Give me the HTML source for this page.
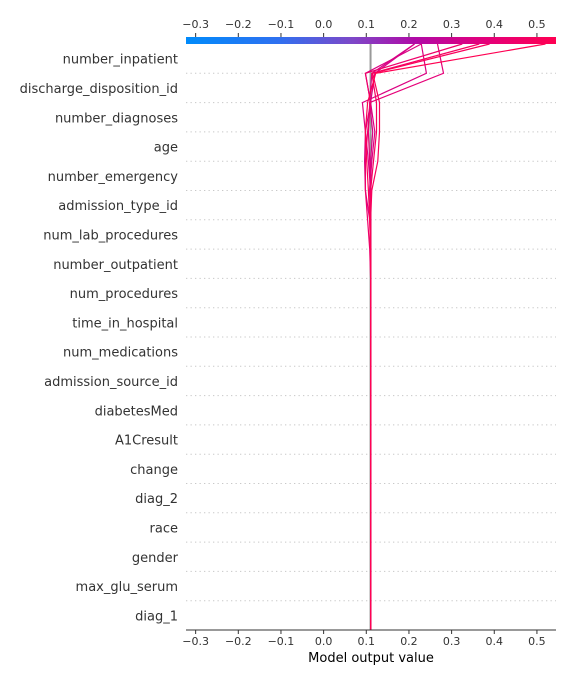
<!DOCTYPE html>
<html><head><meta charset="utf-8"><style>
html,body{margin:0;padding:0;background:#fff;width:576px;height:684px;overflow:hidden}
svg text{font-family:"DejaVu Sans","Liberation Sans",sans-serif;}
</style></head><body>
<svg id="chart" width="576" height="684" xmlns="http://www.w3.org/2000/svg">
<defs><linearGradient id="cb" x1="0" x2="1" y1="0" y2="0">
<stop offset="0" stop-color="#008bfb"/><stop offset="0.25" stop-color="#2f70f0"/><stop offset="0.45" stop-color="#7d48c8"/><stop offset="0.62" stop-color="#b00aa6"/><stop offset="0.8" stop-color="#e2007c"/><stop offset="1" stop-color="#ff0052"/></linearGradient></defs>
<g id="grid"></g><g id="lines"></g><g id="axes"></g>
</svg>
<script>
const features = ["number_inpatient","discharge_disposition_id","number_diagnoses","age","number_emergency","admission_type_id","num_lab_procedures","number_outpatient","num_procedures","time_in_hospital","num_medications","admission_source_id","diabetesMed","A1Cresult","change","diag_2","race","gender","max_glu_serum","diag_1"];
const baseValue = 0.110;
const tickValues = [-0.3,-0.2,-0.1,0.0,0.1,0.2,0.3,0.4,0.5];
const tickLabels = ["\u22120.3","\u22120.2","\u22120.1","0.0","0.1","0.2","0.3","0.4","0.5"];
// model output after each feature, listed top feature first (remaining features leave output at base)
const sampleA = [0.520,0.122,0.103,0.098,0.101,0.105,0.108];
const sampleB = [0.389,0.115,0.131,0.131,0.127,0.113];
const sampleC = [0.365,0.113,0.124,0.124,0.117,0.110];
const sampleD = [0.325,0.098,0.110,0.103,0.098,0.098,0.103,0.108];
const sampleE = [0.267,0.281,0.108,0.105,0.108];
const sampleF = [0.229,0.241,0.091,0.098,0.105];
const sampleG = [0.213,0.120,0.110,0.098,0.096,0.098,0.108];
const sampleH = [0.229,0.098,0.110,0.120,0.113,0.108];
const sampleI = [0.213,0.113,0.108,0.115,0.110,0.108];
const samples = [sampleI,sampleH,sampleG,sampleF,sampleE,sampleD,sampleC,sampleB,sampleA];

const X0=186, X1=556, D0=-0.3226, D1=0.5447, YT=44, YB=630;
const xs = v => X0 + (v-D0)/(D1-D0)*(X1-X0);
const step = (YB-YT)/features.length;
const yb = k => YT + k*step;
const NS="http://www.w3.org/2000/svg";
function mk(tag,attrs,parent,text){const e=document.createElementNS(NS,tag);for(const k in attrs)e.setAttribute(k,attrs[k]);if(text!=null)e.textContent=text;parent.appendChild(e);return e;}
function colorFor(v){
  const stops=[[0,[0,139,251]],[0.25,[47,112,240]],[0.45,[125,72,200]],[0.62,[176,10,166]],[0.8,[226,0,124]],[1,[255,0,82]]];
  let t=Math.max(0,Math.min(1,(v-D0)/(D1-D0)));
  for(let i=1;i<stops.length;i++){if(t<=stops[i][0]){const a=stops[i-1],b=stops[i];const f=(t-a[0])/(b[0]-a[0]);return "rgb("+a[1].map((c,j)=>Math.round(c+(b[1][j]-c)*f)).join(",")+")";}}
  return "rgb(255,0,82)";
}
const grid=document.getElementById('grid'), lines=document.getElementById('lines'), axes=document.getElementById('axes');
features.forEach((f,i)=>{
  const yc=YT+(i+0.5)*step;
  const t=mk('text',{x:178,y:yc+5,'text-anchor':'end','font-size':13,fill:'#333'},axes,f);
  
  
  const g=mk('line',{x1:X0,x2:X1,y1:yb(i+1),y2:yb(i+1),stroke:'#c8c8c8','stroke-dasharray':'1.3,3.2','stroke-width':1},grid);
  
  
});
const bl=mk('line',{x1:xs(baseValue),x2:xs(baseValue),y1:YT,y2:YB,stroke:'#999','stroke-width':2},grid);


samples.forEach((s,si)=>{
  const pts=[];
  for(let k=0;k<=features.length;k++){const v=k<s.length?s[k]:baseValue;pts.push(xs(v).toFixed(1)+","+yb(k).toFixed(1));}
  const p=mk('polyline',{points:pts.join(" "),fill:'none',stroke:colorFor(s[0]+0.12),'stroke-width':1.2},lines);
  
  
});
const cb=mk('rect',{x:X0,y:37,width:X1-X0,height:7,fill:'url(#cb)'},axes);


const ax=mk('line',{x1:X0,x2:X1,y1:YB,y2:YB,stroke:'#333','stroke-width':1},axes);


tickValues.forEach((v,i)=>{
  const x=xs(v);
  mk('line',{x1:x,x2:x,y1:YB,y2:YB+4,stroke:'#333'},axes);
  mk('line',{x1:x,x2:x,y1:33,y2:37,stroke:'#333'},axes);
  const b=mk('text',{x:x,y:YB+15,'text-anchor':'middle','font-size':11,fill:'#333'},axes,tickLabels[i]);
  
  
  const t=mk('text',{x:x,y:28,'text-anchor':'middle','font-size':11,fill:'#333'},axes,tickLabels[i]);
  
  
});
const xt=mk('text',{x:371,y:662,'text-anchor':'middle','font-size':13,fill:'#000'},axes,'Model output value');


</script>
</body></html>
